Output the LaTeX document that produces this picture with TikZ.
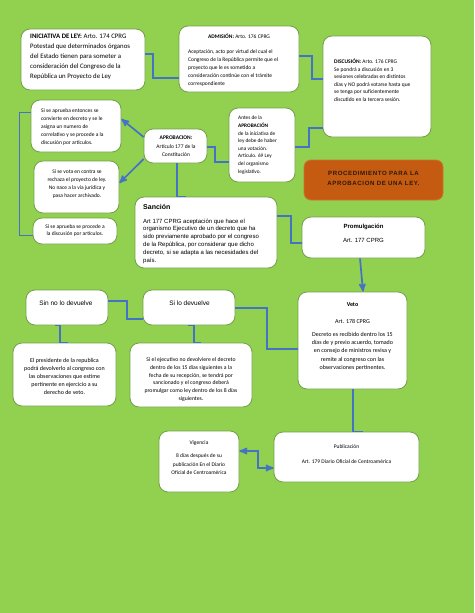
\documentclass[tikz,border=0pt]{standalone}
\usepackage{fontspec}
\setmainfont{Carlito}
\newfontfamily\arialfont{Liberation Sans}
\newfontfamily\widefont[LetterSpace=10]{Liberation Sans}
\usetikzlibrary{arrows,fit}
\definecolor{leafgreen}{RGB}{146,208,80}
\definecolor{cardline}{RGB}{112,160,70}
\definecolor{linkblue}{RGB}{68,114,196}
\definecolor{rust}{RGB}{197,90,17}
\definecolor{bannertext}{RGB}{45,25,10}
\newcommand{\fsize}[2]{\fontsize{#1}{#2}\selectfont}

\begin{document}
\begin{tikzpicture}
    [ x=1pt, y=-1pt,
      card/.style={draw=cardline, fill=white, line width=.8pt,
                   rounded corners=9pt, inner sep=0pt},
      banner/.style={draw=rust!85!white, fill=rust, line width=.8pt,
                     rounded corners=7pt, inner sep=0pt},
      txt/.style={inner sep=0pt, align=left, font=\fsize{5.5}{8}},
      ctxt/.style={inner sep=0pt, align=center, font=\fsize{5.5}{8}},
      link/.style={linkblue, line width=1.7pt},
      arrow/.style={link, ->, >=stealth'},
      twoway/.style={link, <->, >=stealth'}
    ]
    % Page
    \useasboundingbox (0,0) rectangle (474,613);
    \fill[leafgreen] (0,0) rectangle (474,613);

    % Boxes
    \foreach \name/\from/\to in {ini/{21,29}/{145,90}, adm/{179,26}/{299,92},
        dis/{323,36}/{431,137}, siap/{31,100}/{121,152},
        apr/{144,129}/{207,163}, antes/{229,108}/{295,182},
        vota/{34,161}/{119,213}, proc/{33,218}/{117,244},
        sanc/{135,197}/{277,268}, prom/{302,217}/{425,258},
        sinno/{26,290}/{108,325}, silo/{143,290}/{235,325},
        veto/{298,292}/{407,389}, pres/{13,343}/{116,406},
        ejec/{130,343}/{252,407}, vig/{159,431}/{239,492},
        pub/{274,432}/{419,482}} {
        \node[card, fit={(\from) (\to)}] (\name) {};
    }

    % Title
    \node[banner, fit={(304,160) (443,200)}] (titulo) {};
    \node[ctxt, font=\widefont\bfseries\fsize{6.1}{10}, text=bannertext]
        (titulo-t) at (373.5,178) {PROCEDIMIENTO PARA LA\\ APROBACION DE UNA LEY.};

    % Texts
    \node[txt, font=\fsize{6.8}{10}, anchor=north west] (ini-t) at (30,34)
        {\textbf{INICIATIVA DE LEY:} Arto. 174 CPRG\\ Potestad que determinados órganos\\
         del Estado tienen para someter a\\ consideración del Congreso de la\\
         República un Proyecto de Ley};
    \node[ctxt] (adm-h) at (239,36) {\textbf{ADMISIÓN:} Arto. 176 CPRG};
    \node[txt, anchor=north west] (adm-t) at (188,49)
        {Aceptación, acto por virtud del cual el\\ Congreso de la República permite que el\\
         proyecto que le es sometido a\\ consideración continúe con el trámite\\
         correspondiente};
    \node[txt, font=\fsize{5.5}{7.5}, anchor=north west] (dis-t) at (334,59)
        {\textbf{DISCUSIÓN:} Arto. 176 CPRG\\ Se pondrá a discusión en 3\\
         sesiones celebradas en distintos\\ días y NO podrá votarse hasta que\\
         se tenga por suficientemente\\ discutido en la tercera sesión.};
    \node[txt, anchor=north west] (siap-t) at (41,108)
        {Si se aprueba entonces se\\ convierte en decreto y se le\\ asigna un numero de\\
         correlativo y se procede a la\\ discusión por artículos.};
    \node[ctxt, font=\fsize{5.5}{8.5}] (apr-t) at (176,146.5)
        {\textbf{APROBACION:}\\ Artículo 177 de la\\ Constitución};
    \node[txt, font=\fsize{5.3}{7.6}, anchor=north west] (antes-t) at (238,116)
        {Antes de la\\ \textbf{APROBACIÓN}\\ de la iniciativa de\\ ley debe de haber\\
         una votación.\\ Articulo. 69 Ley\\ del organismo\\ legislativo.};
    \node[ctxt, font=\fsize{5.5}{7.8}] (vota-t) at (77,184)
        {Si se vota en contra se\\ rechaza el proyecto de ley.\\
         No nace a la vía jurídica y\\ pasa hacer archivado.};
    \node[ctxt, font=\fsize{5.5}{7.5}] (proc-t) at (75,230.5)
        {Si se aprueba se procede a\\ la discusión por artículos.};
    \node[txt, font=\arialfont\bfseries\fsize{7}{8}, anchor=west] (sanc-h) at (143,207)
        {Sanción};
    \node[txt, font=\arialfont\fsize{6}{7.8}, anchor=north west] (sanc-t) at (143,218.5)
        {Art 177 CPRG aceptación que hace el\\ organismo Ejecutivo de un decreto que ha\\
         sido previamente aprobado por el congreso\\ de la República, por considerar que dicho\\
         decreto, si se adapta a las necesidades del\\ país.};
    \node[ctxt, font=\arialfont\fsize{6}{8}] (prom-t) at (363.5,233)
        {\textbf{Promulgación}\\[6pt] Art. 177 CPRG};
    \node[ctxt, font=\arialfont\fsize{6.5}{8}] (sinno-t) at (66,303) {Sin no lo devuelve};
    \node[ctxt, font=\arialfont\fsize{6.5}{8}] (silo-t) at (189.5,303) {Si lo devuelve};
    \node[ctxt, font=\fsize{6}{8.3}] (veto-t) at (352.5,336.5)
        {\textbf{Veto}\\[8.7pt] Art. 178 CPRG\\[4.7pt] Decreto es recibido dentro los 15\\
         días de y previo acuerdo, tomado\\ en consejo de ministros revisa y\\
         remite al congreso con las\\ observaciones pertinentes.};
    \node[ctxt, font=\fsize{6}{8}] (pres-t) at (64.5,376)
        {El presidente de la republica\\ podrá devolverlo al congreso con\\
         las observaciones que estime\\ pertinente en ejercicio a su\\ derecho de veto.};
    \node[ctxt, font=\fsize{5.7}{7.9}] (ejec-t) at (191,379.5)
        {Si el ejecutivo no devolviere el decreto\\ dentro de los 15 días siguientes a la\\
         fecha de su recepción, se tendrá por\\ sancionado y el congreso deberá\\
         promulgar como ley dentro de los 8 días\\ siguientes.};
    \node[ctxt, font=\fsize{5.5}{8.5}] (vig-t) at (199,458)
        {Vigencia\\[4.5pt] 8 días después de su\\ publicación En el Diario\\
         Oficial de Centroamérica};
    \node[ctxt] (pub-t) at (346.5,454.5)
        {Publicación\\[7pt] Art. 179 Diario Oficial de Centroamérica};

    % Connectors
    \draw[link] (ini.east |- 0,54) -| (153,78) -- (adm.west |- 0,78);
    \draw[link] (adm.east |- 0,56) -| (312,79) -- (dis.west |- 0,79);
    \draw[link] (dis.west |- 0,128) -| (309,147) -- (antes.east |- 0,147);
    \draw[link] (antes.west |- 0,162) -| (215,147) -- (apr.east |- 0,147);
    \draw[arrow] (apr.west |- 0,137) -- (siap.east |- 0,119);
    \draw[arrow] (apr.west |- 0,159) -- (vota.east |- 0,183);
    \draw[link, line width=1pt] (siap.west |- 0,112) -| (19,235) -- (proc.west |- 0,235);
    \draw[link] (apr.south -| 177,0) |- (sanc.north -| 186,0);
    \draw[link] (sanc.east |- 0,216) -| (291,243) -- (prom.west |- 0,243);
    \draw[arrow] (prom.south -| 360,0) -- (veto.north -| 363,0);
    \draw[link] (veto.west |- 0,349) -| (267,308) -- (silo.east |- 0,308);
    \draw[link] (silo.west |- 0,319) -| (127,301) -- (sinno.east |- 0,301);
    \draw[link] (sinno.south -| 55,0) -| (pres.north -| 60,0) -- (pres.north -| 68,0);
    \draw[link] (silo.south -| 188,0) -| (ejec.north -| 194,0) -- (ejec.north -| 201,0);
    \draw[link] (veto.south -| 353,0) |- (pub.north -| 363,0);
    \draw[twoway] (pub.west |- 0,468) -| (258,451) -- (vig.east |- 0,451);

\end{tikzpicture}
\end{document}
